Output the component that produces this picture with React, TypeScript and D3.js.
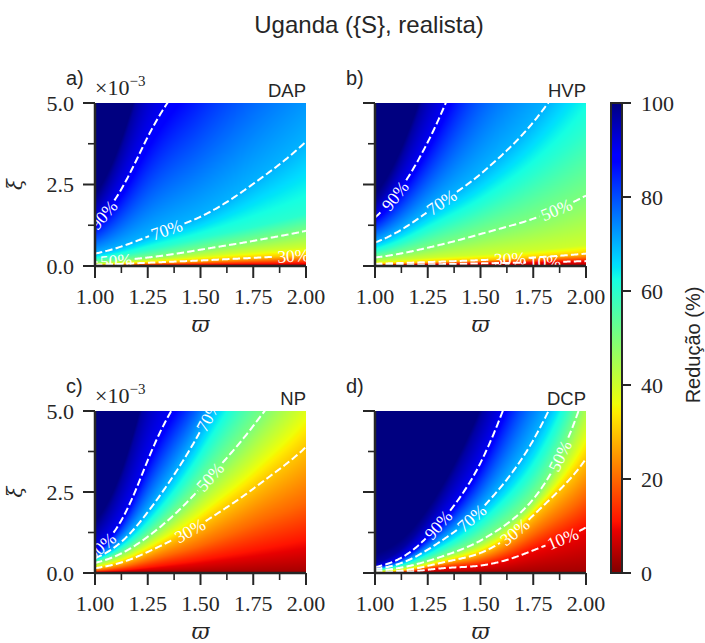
import { useMemo } from "react";
import * as d3 from "d3";

// omega sample columns; xi values are in units of 1e-3
const OMEGA = [1.0, 1.25, 1.5, 1.75, 2.0];
const OMEGA_TICKS = [1.0, 1.25, 1.5, 1.75, 2.0];
const OMEGA_MINOR = [1.125, 1.375, 1.625, 1.875];
const XI_TICKS = [0, 2.5, 5.0];
const XI_MINOR = [1.25, 3.75];
const CBAR_TICKS = [0, 20, 40, 60, 80, 100];

// reduction levels (%) whose xi position is read at each omega column
const LEVELS = [10, 20, 30, 40, 50, 60, 70, 90, 97];
const BOTTOM_VALUE = 3;

const dapXi = [
  [0.012, 0.025, 0.04, 0.06, 0.08],
  [0.025, 0.06, 0.1, 0.15, 0.2],
  [0.04, 0.1, 0.17, 0.25, 0.33],
  [0.07, 0.17, 0.3, 0.45, 0.58],
  [0.12, 0.26, 0.5, 0.77, 1.08],
  [0.22, 0.5, 0.85, 1.2, 1.6],
  [0.38, 0.9, 1.51, 2.52, 3.82],
  [1.3, 3.96, 6.45, 9.3, 12.5],
  [1.9, 6.2, 10, 14, 18],
];
const hvpXi = [
  [0.03, 0.05, 0.08, 0.11, 0.15],
  [0.05, 0.085, 0.13, 0.18, 0.25],
  [0.07, 0.12, 0.18, 0.26, 0.38],
  [0.13, 0.25, 0.35, 0.48, 0.65],
  [0.26, 0.56, 0.98, 1.45, 2.16],
  [0.45, 1.05, 1.8, 2.8, 4.2],
  [0.72, 1.66, 2.82, 4.41, 6.9],
  [1.49, 3.8, 7.9, 12.5, 17.5],
  [1.9, 5.5, 10, 15, 20],
];
const npXi = [
  [0.03, 0.15, 0.35, 0.6, 0.9],
  [0.08, 0.38, 0.85, 1.5, 2.2],
  [0.15, 0.65, 1.5, 2.6, 3.89],
  [0.22, 0.88, 2.05, 3.5, 5.3],
  [0.31, 1.12, 2.63, 4.54, 6.8],
  [0.38, 1.45, 3.45, 6.0, 8.9],
  [0.46, 1.88, 4.39, 7.5, 11],
  [0.67, 3.48, 6.55, 10, 14],
  [1.3, 5.6, 9.5, 14, 18],
];
const dcpXi = [
  [0.005, 0.1, 0.23, 0.7, 1.41],
  [0.012, 0.16, 0.42, 1.2, 2.4],
  [0.02, 0.22, 0.62, 1.78, 3.53],
  [0.045, 0.3, 0.8, 2.0, 4.5],
  [0.07, 0.37, 1.0, 2.28, 5.7],
  [0.095, 0.52, 1.45, 3.1, 6.8],
  [0.12, 0.72, 1.95, 4.1, 8.0],
  [0.18, 1.13, 3.4, 7.8, 13],
  [0.3, 1.7, 4.8, 9, 14],
];

// dashed contours drawn in each panel, and where their labels sit (omega)
const dapLines = [90, 70, 50, 30];
const dapLabelAt = [1.04, 1.34, 1.1, 1.94];
const hvpLines = [90, 70, 50, 30, 10];
const hvpLabelAt = [1.095, 1.316, 1.86, 1.64, 1.805];
const npLines = [90, 70, 50, 30];
const npLabelAt = [1.03, 1.537, 1.545, 1.45];
const dcpLines = [90, 70, 50, 30, 10];
const dcpLabelAt = [1.3, 1.458, 1.877, 1.663, 1.89];

const PW = 211;
const INK = "#262626";
const SERIF = "'Liberation Serif', serif";
const SANS = "'Liberation Sans', Arial, sans-serif";

const jetR = d3.scaleLinear().domain([0, 0.35, 0.66, 0.89, 1]).range([0, 0, 1, 1, 0.5]).clamp(true);
const jetG = d3.scaleLinear().domain([0, 0.125, 0.375, 0.64, 0.91, 1]).range([0, 0, 1, 1, 0, 0]).clamp(true);
const jetB = d3.scaleLinear().domain([0, 0.11, 0.34, 0.65, 1]).range([0.5, 1, 1, 0, 0]).clamp(true);
const JET_STOPS = [0, 0.11, 0.125, 0.34, 0.35, 0.375, 0.64, 0.65, 0.66, 0.89, 0.91, 1];

function monotone(xs: number[], ys: number[]) {
  const n = xs.length;
  const d: number[] = [];
  const m: number[] = new Array(n);
  for (let i = 0; i < n - 1; i++) d[i] = (ys[i + 1] - ys[i]) / (xs[i + 1] - xs[i]);
  m[0] = d[0];
  m[n - 1] = d[n - 2];
  for (let i = 1; i < n - 1; i++) m[i] = d[i - 1] * d[i] <= 0 ? 0 : (d[i - 1] + d[i]) / 2;
  for (let i = 0; i < n - 1; i++) {
    if (d[i] === 0) {
      m[i] = 0;
      m[i + 1] = 0;
    } else {
      const a = m[i] / d[i];
      const b = m[i + 1] / d[i];
      const s = a * a + b * b;
      if (s > 9) {
        const t = 3 / Math.sqrt(s);
        m[i] = t * a * d[i];
        m[i + 1] = t * b * d[i];
      }
    }
  }
  return (x: number) => {
    let i = 0;
    while (i < n - 2 && x > xs[i + 1]) i++;
    const h = xs[i + 1] - xs[i];
    const t = (x - xs[i]) / h;
    const t2 = t * t;
    const t3 = t2 * t;
    return (
      (2 * t3 - 3 * t2 + 1) * ys[i] +
      (t3 - 2 * t2 + t) * h * m[i] +
      (-2 * t3 + 3 * t2) * ys[i + 1] +
      (t3 - t2) * h * m[i + 1]
    );
  };
}

function levelCurves(xi: number[][]) {
  return xi.map((row) => {
    const f = monotone(OMEGA, row.map(Math.log));
    return (w: number) => Math.exp(f(w));
  });
}

function renderField(xi: number[][], h: number) {
  const curves = levelCurves(xi);
  const xs = d3.scaleLinear().domain([1, 2]).range([0, PW]);
  const ys = d3.scaleLinear().domain([0, 5]).range([h, 0]);
  const canvas = document.createElement("canvas");
  canvas.width = PW;
  canvas.height = h;
  const ctx = canvas.getContext("2d")!;
  const img = ctx.createImageData(PW, h);
  for (let px = 0; px < PW; px++) {
    const w = xs.invert(px + 0.5);
    const knots = [0];
    curves.forEach((f) => knots.push(Math.max(f(w), knots[knots.length - 1] + 1e-4)));
    knots.push(knots[knots.length - 1] + 0.3);
    const vals = [BOTTOM_VALUE, ...LEVELS, 100];
    for (let py = 0; py < h; py++) {
      const x = ys.invert(py + 0.5);
      let v = 100;
      for (let k = 0; k < knots.length - 1; k++) {
        if (x <= knots[k + 1]) {
          v = vals[k] + ((x - knots[k]) / (knots[k + 1] - knots[k])) * (vals[k + 1] - vals[k]);
          break;
        }
      }
      const t = 1 - Math.max(0, Math.min(100, v)) / 100;
      const o = (py * PW + px) * 4;
      img.data[o] = Math.round(jetR(t) * 255);
      img.data[o + 1] = Math.round(jetG(t) * 255);
      img.data[o + 2] = Math.round(jetB(t) * 255);
      img.data[o + 3] = 255;
    }
  }
  ctx.putImageData(img, 0, 0);
  return canvas.toDataURL();
}

const PANELS = [
  { id: "a", letter: "a)", name: "DAP", xi: dapXi, lines: dapLines, labelAt: dapLabelAt, left: 95, top: 103, bottom: 266, yLabels: true },
  { id: "b", letter: "b)", name: "HVP", xi: hvpXi, lines: hvpLines, labelAt: hvpLabelAt, left: 375, top: 103, bottom: 266, yLabels: false },
  { id: "c", letter: "c)", name: "NP", xi: npXi, lines: npLines, labelAt: npLabelAt, left: 95, top: 411, bottom: 573, yLabels: true },
  { id: "d", letter: "d)", name: "DCP", xi: dcpXi, lines: dcpLines, labelAt: dcpLabelAt, left: 375, top: 411, bottom: 573, yLabels: false },
];

function Panel({ p }: { p: (typeof PANELS)[number] }) {
  const h = p.bottom - p.top;
  const x = d3.scaleLinear().domain([1, 2]).range([p.left, p.left + PW]);
  const y = d3.scaleLinear().domain([0, 5]).range([p.bottom, p.top]);
  const href = useMemo(() => renderField(p.xi, h), [p.xi, h]);
  const curves = useMemo(() => levelCurves(p.xi), [p.xi]);
  const samples = d3.range(1, 2.0001, 0.004);
  const fs = 17.5;

  const contours = p.lines.map((lvl, i) => {
    const f = curves[LEVELS.indexOf(lvl)];
    const wl = p.labelAt[i];
    const cx = x(wl);
    const cy = y(f(wl));
    const ax = x(wl + 0.01) - x(wl - 0.01);
    const ay = y(f(wl + 0.01)) - y(f(wl - 0.01));
    let ang = (Math.atan2(ay, ax) * 180) / Math.PI;
    if (ang > 90) ang -= 180;
    if (ang < -90) ang += 180;
    const half = 18;
    const pts = samples.map((w) => [x(w), y(f(w))] as [number, number]);
    const line = d3
      .line<[number, number]>()
      .defined((q) => Math.hypot(q[0] - cx, q[1] - cy) > half && q[1] > p.top - 40)
      .x((q) => q[0])
      .y((q) => q[1]);
    return { lvl, d: line(pts) || "", cx, cy, ang };
  });

  return (
    <g>
      <defs>
        <clipPath id={`clip-${p.id}`}>
          <rect x={p.left} y={p.top} width={PW} height={h} />
        </clipPath>
      </defs>
      <image href={href} x={p.left} y={p.top} width={PW} height={h} preserveAspectRatio="none" />
      <g clipPath={`url(#clip-${p.id})`}>
        {contours.map((c) => (
          <path key={c.lvl} d={c.d} fill="none" stroke="#fff" strokeWidth={2} strokeDasharray="7.4,3.2" />
        ))}
        {contours.map((c) => (
          <text
            key={`t${c.lvl}`}
            transform={`translate(${c.cx},${c.cy}) rotate(${c.ang})`}
            textAnchor="middle"
            dominantBaseline="central"
            fill="#fff"
            fontFamily={SERIF}
            fontSize={fs}
          >
            {c.lvl}%
          </text>
        ))}
      </g>
      {/* spines */}
      <line x1={p.left} x2={p.left} y1={p.top} y2={p.bottom} stroke={INK} strokeWidth={2.5} />
      <line x1={p.left} x2={p.left + PW} y1={p.bottom} y2={p.bottom} stroke={INK} strokeWidth={2.5} />
      {OMEGA_TICKS.map((t) => (
        <g key={`xt${t}`}>
          <line x1={x(t)} x2={x(t)} y1={p.bottom} y2={p.bottom + 12} stroke={INK} strokeWidth={2} />
          <text x={x(t)} y={p.bottom + 38} textAnchor="middle" fontFamily={SERIF} fontSize={22} fill={INK}>
            {t.toFixed(2)}
          </text>
        </g>
      ))}
      {OMEGA_MINOR.map((t) => (
        <line key={`xm${t}`} x1={x(t)} x2={x(t)} y1={p.bottom} y2={p.bottom + 7} stroke={INK} strokeWidth={1.6} />
      ))}
      {XI_TICKS.map((t) => (
        <g key={`yt${t}`}>
          <line x1={p.left - 12} x2={p.left} y1={y(t)} y2={y(t)} stroke={INK} strokeWidth={2} />
          {p.yLabels && (
            <text x={p.left - 21} y={y(t) + 7.5} textAnchor="end" fontFamily={SERIF} fontSize={22} fill={INK}>
              {t.toFixed(1)}
            </text>
          )}
        </g>
      ))}
      {XI_MINOR.map((t) => (
        <line key={`ym${t}`} x1={p.left - 7} x2={p.left} y1={y(t)} y2={y(t)} stroke={INK} strokeWidth={1.6} />
      ))}
      <text x={p.left - 29} y={p.top - 18} fontFamily={SANS} fontSize={20} fill={INK}>
        {p.letter}
      </text>
      <text x={p.left + PW} y={p.top - 6} textAnchor="end" fontFamily={SANS} fontSize={18.5} fill={INK}>
        {p.name}
      </text>
      {p.yLabels && (
        <text x={p.left} y={p.top - 8} fontFamily={SERIF} fontSize={22} fill={INK}>
          ×10
          <tspan dy={-9} fontSize={15}>
            −3
          </tspan>
        </text>
      )}
      {p.yLabels && (
        <text
          transform={`translate(22,${(p.top + p.bottom) / 2}) rotate(-90)`}
          textAnchor="middle"
          fontFamily="'DejaVu Serif', serif"
          fontStyle="italic"
          fontSize={20}
          fill={INK}
        >
          ξ
        </text>
      )}
      <text
        x={p.left + PW / 2}
        y={p.bottom + 66}
        textAnchor="middle"
        fontFamily="'DejaVu Serif', serif"
        fontStyle="italic"
        fontSize={22}
        fill={INK}
      >
        ϖ
      </text>
    </g>
  );
}

export default function App() {
  const cb = { left: 611, width: 11, top: 103, bottom: 573 };
  const cy = d3.scaleLinear().domain([0, 100]).range([cb.bottom, cb.top]);
  return (
    <svg width={705} height={643} style={{ position: "absolute", left: 0, top: 0, background: "#fff" }}>
      <defs>
        <linearGradient id="jet" x1="0" y1="0" x2="0" y2="1">
          {JET_STOPS.map((t) => (
            <stop
              key={t}
              offset={t}
              stopColor={`rgb(${Math.round(jetR(t) * 255)},${Math.round(jetG(t) * 255)},${Math.round(jetB(t) * 255)})`}
            />
          ))}
        </linearGradient>
      </defs>
      <text x={369} y={33} textAnchor="middle" fontFamily={SANS} fontSize={24} fill={INK}>
        Uganda ({"{S}"}, realista)
      </text>
      {PANELS.map((p) => (
        <Panel key={p.id} p={p} />
      ))}
      <rect x={cb.left} y={cb.top} width={cb.width} height={cb.bottom - cb.top} fill="url(#jet)" stroke={INK} strokeWidth={2} />
      {CBAR_TICKS.map((t) => (
        <g key={t}>
          <line x1={cb.left + cb.width} x2={cb.left + cb.width + 9} y1={cy(t)} y2={cy(t)} stroke={INK} strokeWidth={2} />
          <text x={641} y={cy(t) + 7.5} fontFamily={SERIF} fontSize={22} fill={INK}>
            {t}
          </text>
        </g>
      ))}
      <text
        transform="translate(700,345) rotate(-90)"
        textAnchor="middle"
        fontFamily={SANS}
        fontSize={20}
        fill={INK}
      >
        Redução (%)
      </text>
    </svg>
  );
}
